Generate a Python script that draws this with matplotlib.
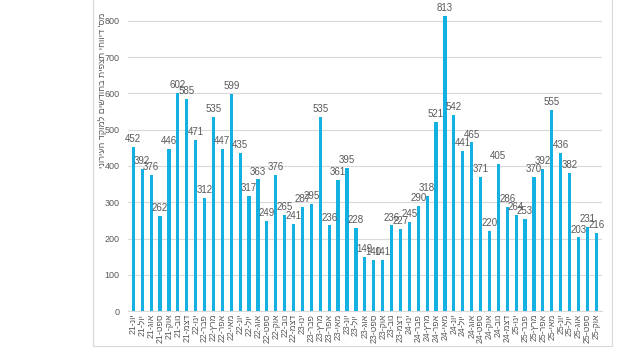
import matplotlib
matplotlib.use('Agg')
import matplotlib.pyplot as plt
from matplotlib.patches import Rectangle

plt.rcParams['font.family'] = ['Liberation Sans', 'DejaVu Sans']

# data: monthly reports, June 2021 .. October 2025
month_names = ['ינו', 'פבר', 'מרץ', 'אפר', 'מאי', 'יונ',
               'יול', 'אוג', 'ספט', 'אוק', 'נוב', 'דצמ']
start_year, start_month = 21, 6
values = [452, 392, 376, 262, 446, 602, 585, 471, 312, 535, 447, 599, 435,
          317, 363, 249, 376, 265, 241, 287, 295, 535, 236, 361, 395, 228,
          149, 140, 141, 236, 227, 245, 290, 318, 521, 813, 542, 441, 465,
          371, 220, 405, 286, 264, 253, 370, 392, 555, 436, 382, 203, 231, 216]
y_title = "מס' דיווחי תצפית בחודשים למוקד העירוני"


def rtl(s):
    # matplotlib has no bidi support, so flip Hebrew into visual order
    return s[::-1]


labels = []
for i in range(len(values)):
    m = (start_month - 1 + i) % 12
    y = start_year + (start_month - 1 + i) // 12
    labels.append(f"{y}-" + rtl(month_names[m]))

bar_color = '#13B1E2'
text_gray = '#595959'

fig = plt.figure(figsize=(6.4, 3.6), dpi=100)
ax = fig.add_axes([0.2, 0.136, 0.74, 0.836])

x = list(range(len(values)))
ax.bar(x, values, width=0.36, color=bar_color, zorder=3)

for xi, v in zip(x, values):
    ax.text(xi, v + 8, str(v), ha='center', va='bottom',
            fontsize=7, color=text_gray, zorder=4)

ax.set_xlim(-0.6, len(values) - 0.4)
ax.set_ylim(0, 830)
ax.set_yticks(range(0, 801, 100))
ax.tick_params(axis='y', length=0, labelsize=6.5, labelcolor=text_gray, pad=6)
ax.set_xticks(x)
ax.set_xticklabels(labels, rotation=90, fontsize=6.3, color=text_gray)
ax.tick_params(axis='x', length=0, pad=2)

ax.grid(axis='y', color='#D9D9D9', linewidth=0.8, zorder=0)
for side in ['top', 'right', 'left']:
    ax.spines[side].set_visible(False)
ax.spines['bottom'].set_color('#D9D9D9')

fig.text(0.16, 0.75, rtl(y_title), rotation=90, ha='center', va='center',
         fontsize=6.5, color=text_gray)

# chart area border
fig.patches.append(Rectangle((0.145, 0.04), 0.812, 0.975, transform=fig.transFigure,
                             fill=False, edgecolor='#D9D9D9', linewidth=0.8))

fig.savefig('out.png', dpi=100, facecolor='white')
